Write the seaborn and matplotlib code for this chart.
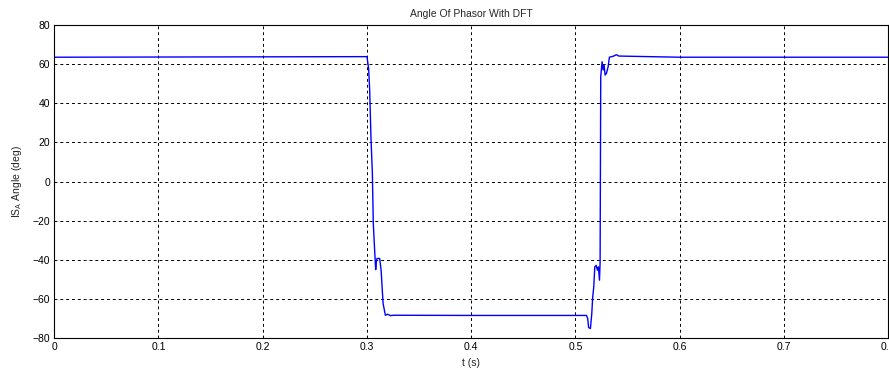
import matplotlib
matplotlib.use("Agg")
import matplotlib.pyplot as plt
import seaborn as sns
import pandas as pd

# time (s)
t = [0.0, 0.300, 0.3016, 0.3026, 0.3039, 0.3052, 0.3061, 0.3074, 0.3084, 0.3090,
     0.3097, 0.3122, 0.3136, 0.3155, 0.3177, 0.3199, 0.3225, 0.3257, 0.40, 0.5106,
     0.5118, 0.5127, 0.5144, 0.5157, 0.5166, 0.5176, 0.5186, 0.5199, 0.5212, 0.5221,
     0.5231, 0.5237, 0.5243, 0.5256, 0.5266, 0.5275, 0.5285, 0.5298, 0.5314, 0.5326,
     0.5368, 0.5394, 0.5416, 0.60, 0.80]
# angle (deg)
angle = [63.5, 63.8, 57.9, 47.1, 22.0, 4.5, -21.4, -35.1, -45.0, -41.0,
         -39.3, -39.3, -45.3, -62.3, -68.3, -67.8, -68.5, -68.3, -68.4, -68.4,
         -70.0, -74.6, -75.1, -67.5, -59.0, -53.9, -43.6, -42.8, -45.3, -43.6,
         -50.4, -41.1, 53.6, 61.2, 57.0, 59.5, 54.4, 55.3, 58.7, 63.5,
         64.1, 64.8, 64.1, 63.5, 63.5]

xticks = [0, 0.1, 0.2, 0.3, 0.4, 0.5, 0.6, 0.7, 0.8]
xticklabels = ["0", "0.1", "0.2", "0.3", "0.4", "0.5", "0.6", "0.7", "0.8"]
yticks = [-80, -60, -40, -20, 0, 20, 40, 60, 80]

sns.set_style("white")
plt.rcParams["font.family"] = ["Liberation Sans", "DejaVu Sans"]

df = pd.DataFrame({"t": t, "angle": angle})

fig = plt.figure(figsize=(8.89, 3.72), dpi=100)
ax = fig.add_axes([0.061, 0.091, 0.938, 0.842])
sns.lineplot(data=df, x="t", y="angle", ax=ax, color=(0, 0, 1), linewidth=1.0,
             estimator=None, sort=False)
ax.set_xlim(0, 0.8)
ax.set_ylim(-80, 80)
ax.set_xticks(xticks)
ax.set_xticklabels(xticklabels)
ax.set_yticks(yticks)
ax.tick_params(direction="in", length=3, width=0.8, labelsize=7.5, colors="black",
               pad=3)
ax.grid(True, color="black", linestyle=(0, (3, 3)), linewidth=0.7)
for s in ax.spines.values():
    s.set_color("black")
    s.set_linewidth(0.8)
ax.set_xlabel("t (s)", fontsize=7.5, labelpad=4)
ax.set_ylabel("IS$_{\\mathregular{A}}$ Angle (deg)", fontsize=7.5, labelpad=6)
ax.set_title("Angle Of Phasor With DFT", fontsize=7.5, pad=6)

fig.savefig("out.png", dpi=100)
